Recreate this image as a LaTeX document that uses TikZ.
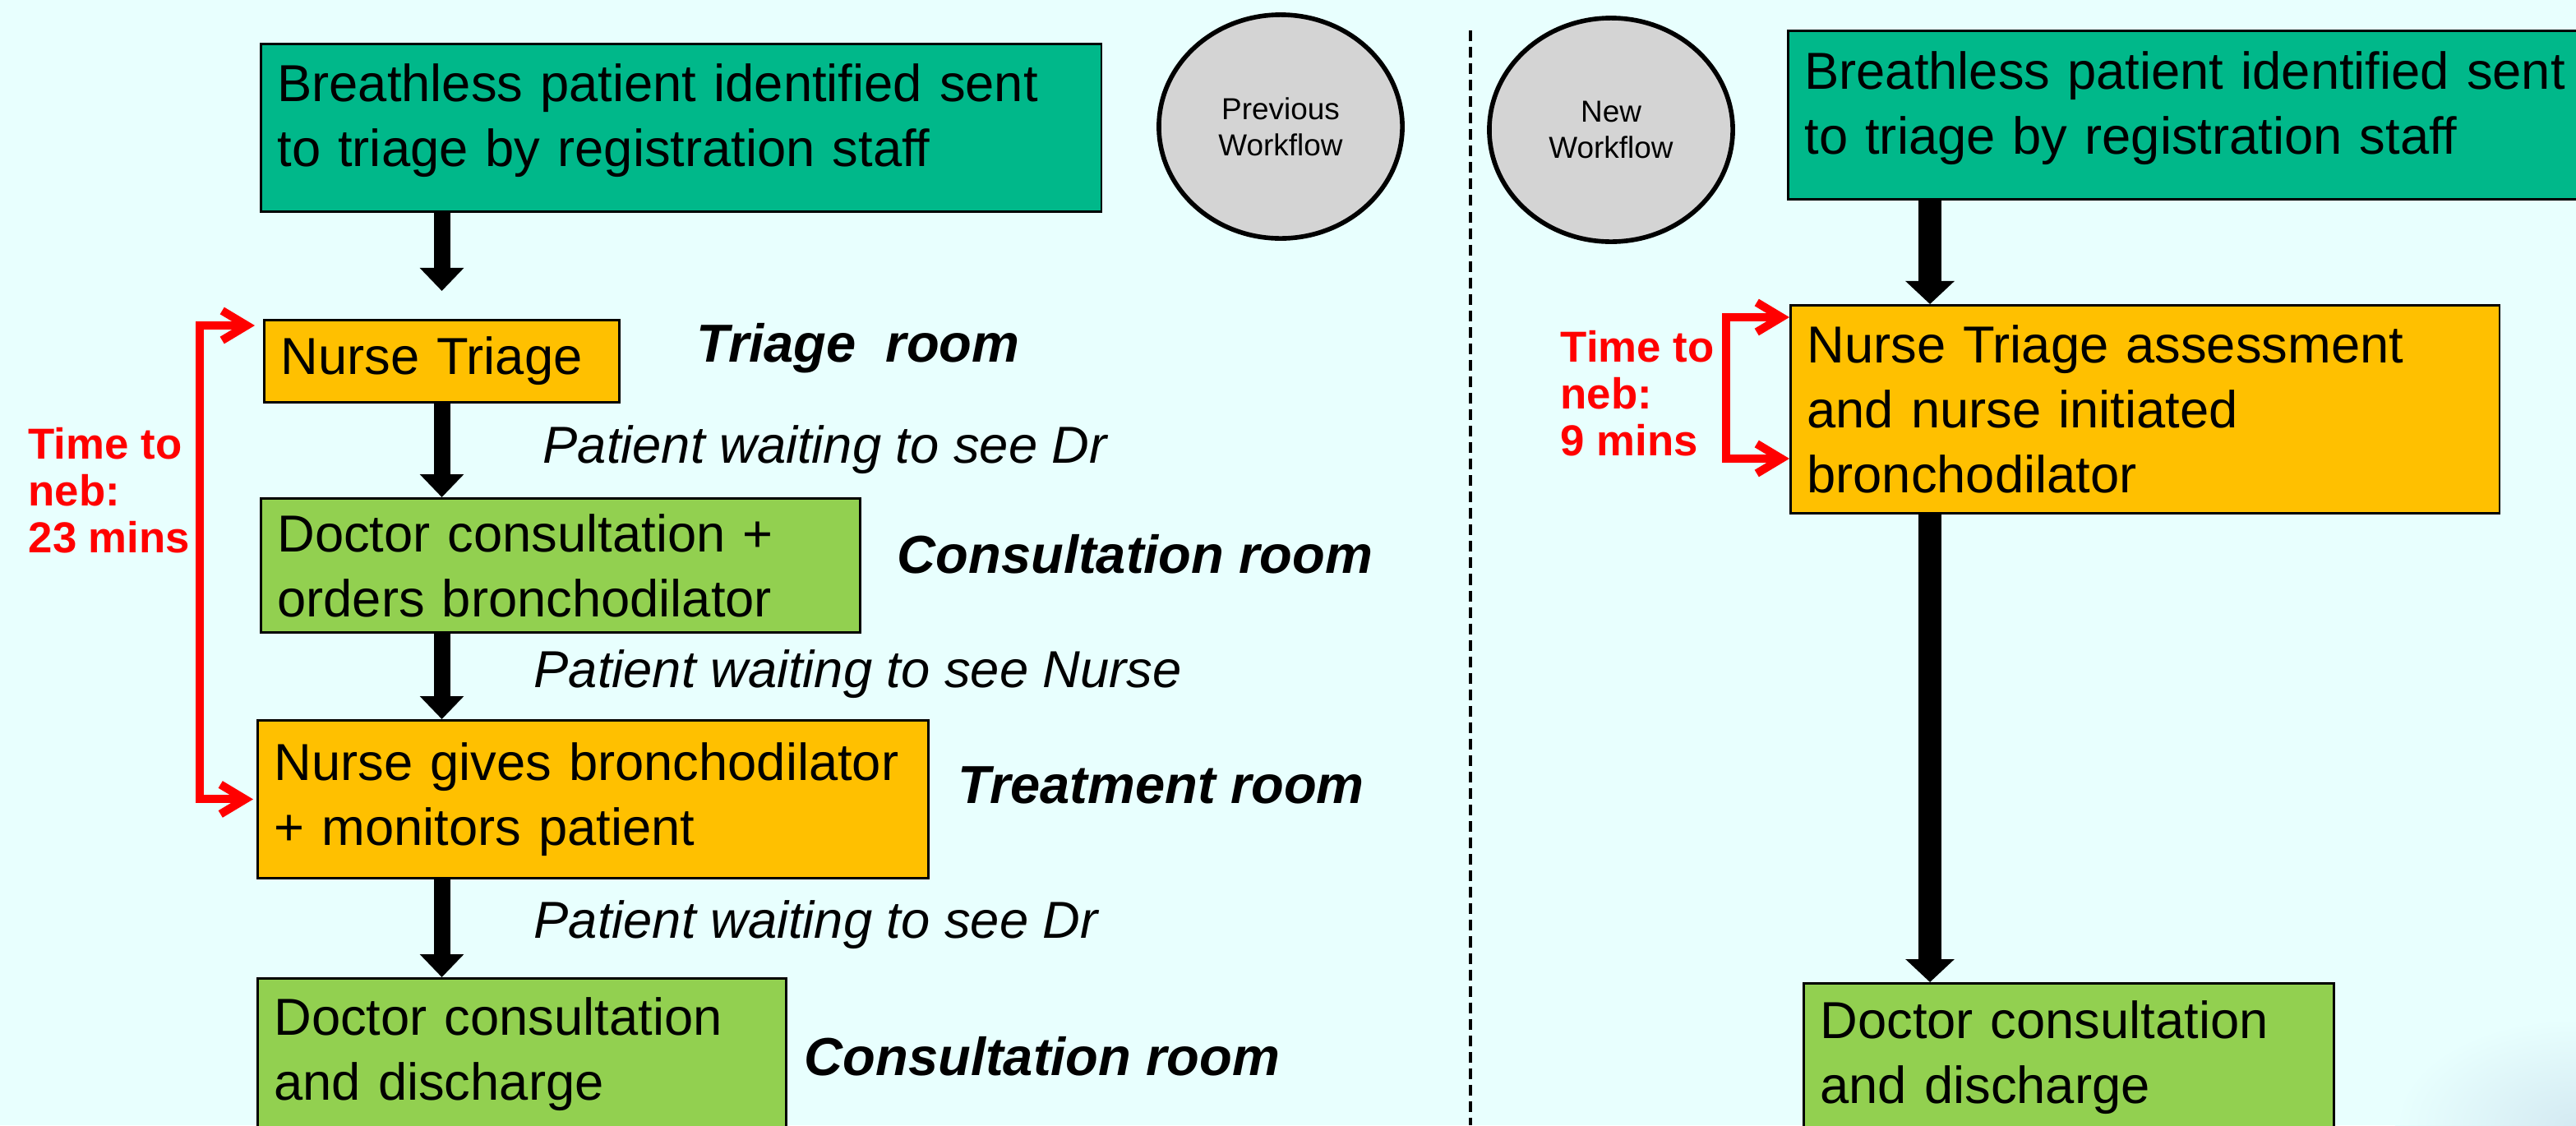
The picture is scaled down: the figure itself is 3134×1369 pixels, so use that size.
\documentclass[tikz,border=0pt]{standalone}
\usepackage{fontspec}
\setmainfont{Liberation Sans}
\usetikzlibrary{arrows.meta,shapes.geometric,calc}
\definecolor{bgcyan}{RGB}{232,255,254}
\definecolor{blobblue}{RGB}{212,234,242}
\definecolor{regteal}{RGB}{0,184,138}
\definecolor{nurseorange}{RGB}{255,192,0}
\definecolor{doctorgreen}{RGB}{146,208,80}
\definecolor{nebred}{RGB}{255,0,0}
\tikzset{
  stepbox/.style={draw, line width=0.8pt, anchor=north west, align=left,
    inner xsep=0.2cm, inner ysep=0pt, font=\fontsize{18}{22.5}\selectfont},
  room/.style={anchor=west, inner sep=0pt, font=\fontsize{18.5}{22}\selectfont\bfseries\itshape},
  wait/.style={anchor=west, inner sep=0pt, font=\fontsize{18}{22}\selectfont\itshape},
  nebnote/.style={anchor=west, align=left, inner sep=0pt, text=nebred,
    font=\fontsize{15}{16.2}\selectfont\bfseries},
  tag/.style={ellipse, draw, line width=1.6pt, fill=black!17, align=center,
    inner sep=0pt, minimum width=2.96cm, minimum height=2.72cm,
    font=\fontsize{10.5}{12.5}\selectfont},
  flow/.style={line width=0.2cm, -{Triangle[width=0.52cm,length=0.28cm]}},
  flowbig/.style={line width=0.28cm, -{Triangle[width=0.58cm,length=0.28cm]}},
  neb/.style={nebred, line width=0.1cm,
    {Straight Barb[length=0.3cm,width=0.36cm]}-{Straight Barb[length=0.3cm,width=0.36cm]}},
  divider/.style={line width=1pt, dash pattern=on 3.7pt off 2pt}
}
\begin{document}
\begin{tikzpicture}[x=0.01cm, y=-0.01cm]
  \fill[bgcyan] (0,0) rectangle (3134,1369);
  \clip (0,0) rectangle (3134,1369);
  \shade[inner color=blobblue, outer color=bgcyan] (3134,1369) ellipse[x radius=2.2cm, y radius=1.3cm];

  % previous workflow
  \node[stepbox, fill=regteal, text width=9.82cm, text depth=1.1cm, minimum height=2.04cm] (reg1) at (316,52)
    {Breathless patient identified sent\\to triage by registration staff};
  \node[stepbox, fill=nurseorange, text width=3.92cm, minimum height=1cm] (tri1) at (320,388)
    {Nurse Triage};
  \node[stepbox, fill=doctorgreen, text width=6.89cm, minimum height=1.63cm] (doc1) at (316,605)
    {Doctor consultation +\\orders bronchodilator};
  \node[stepbox, fill=nurseorange, text width=7.76cm, minimum height=1.92cm] (neb1) at (312,875)
    {Nurse gives bronchodilator\\+ monitors patient};
  \node[stepbox, fill=doctorgreen, text width=6.03cm, minimum height=1.85cm] (dis1) at (312,1189)
    {Doctor consultation\\and discharge};

  \draw[flow, shorten >=0.34cm] (reg1.south -| tri1.north) -- (tri1.north);
  \draw[flow] (tri1.south) -- (doc1.north -| tri1.south);
  \draw[flow] (doc1.south -| tri1.south) -- (neb1.north -| tri1.south);
  \draw[flow] (neb1.south -| tri1.south) -- (dis1.north -| tri1.south);

  \node[room] (room1) at (847,424) {Triage\ \ room};
  \node[room] (room2) at (1091,674) {Consultation room};
  \node[room] (room3) at (1165,955) {Treatment room};
  \node[room] (room4) at (978,1285) {Consultation room};

  \node[wait] (wait1) at (660,547) {Patient waiting to see Dr};
  \node[wait] (wait2) at (649,820) {Patient waiting to see Nurse};
  \node[wait] (wait3) at (649,1125) {Patient waiting to see Dr};

  \draw[neb] ($(tri1.north west)+(-10,8)$) -- ++(-67,0) |- ($(neb1.west)+(-4,0)$);
  \node[nebnote] (time1) at (34,597) {Time to\\neb:\\23 mins};

  \node[tag] (prev) at (1558,154) {Previous\\Workflow};

  \draw[divider] (1789,37) -- (1789,1369);

  % new workflow
  \node[tag] (new) at (1960,158) {New\\Workflow};

  \node[stepbox, fill=regteal, text width=9.7cm, text depth=1.09cm, minimum height=2.05cm] (reg2) at (2174,36)
    {Breathless patient identified sent\\to triage by registration staff};
  \node[stepbox, fill=nurseorange, text width=8.22cm, minimum height=2.53cm] (tri2) at (2177,370)
    {Nurse Triage assessment\\and nurse initiated\\bronchodilator};
  \node[stepbox, fill=doctorgreen, text width=6.05cm, minimum height=1.8cm] (dis2) at (2193,1195)
    {Doctor consultation\\and discharge};

  \coordinate (col2) at (2348,0);
  \draw[flowbig] (reg2.south -| col2) -- (tri2.north -| col2);
  \draw[flowbig] (tri2.south -| col2) -- (dis2.north -| col2);

  \draw[neb] ($(tri2.north west)+(0,16)$) -- ++(-77,0) |- ($(tri2.north west)+(0,188)$);
  \node[nebnote] (time2) at (1898,479) {Time to\\neb:\\9 mins};
\end{tikzpicture}
\end{document}
